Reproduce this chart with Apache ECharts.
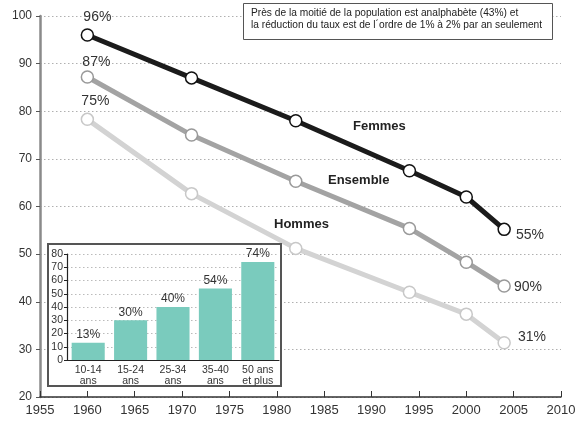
<!DOCTYPE html>
<html>
<head>
<meta charset="utf-8">
<script src="https://cdn.jsdelivr.net/npm/echarts@6/dist/echarts.min.js"></script>
<style>
  html, body { margin: 0; padding: 0; background: #fff; }
  #chart { width: 581px; height: 424px; }
</style>
</head>
<body>
<div id="chart"></div>
<script>
  // annees des recensements / enquetes
  var years = [1960, 1971, 1982, 1994, 2000, 2004]
  var femmes = [96, 87, 78, 67.5, 62, 55.2]
  var ensemble = [87.2, 75, 65.3, 55.4, 48.3, 43.3]
  var hommes = [78.3, 62.7, 51.2, 42, 37.4, 31.4]
  // libelles affiches en debut et fin de courbe
  var startLabels = ['96%', '87%', '75%']
  var endLabels = ['55%', '90%', '31%']

  // encart : taux par tranche d'age
  var ages = ['10-14\nans', '15-24\nans', '25-34\nans', '35-40\nans', '50 ans\net plus']
  var ageRates = [13, 30, 40, 54, 74]

  var font = '"Liberation Sans", Arial, sans-serif'

  var chart = echarts.init(document.getElementById('chart'))

  var makeLine = (name, values, color, border, idx, startOff, endOff) => {
    let data = values.map((v, i) => {
      let item = { value: [years[i], v] }
      if (i == 0) {
        item.label = { show: true, position: 'top', offset: startOff, formatter: startLabels[idx] }
      }
      if (i == values.length - 1) {
        item.label = { show: true, position: 'right', offset: endOff, formatter: endLabels[idx] }
      }
      return item
    })
    return {
      name: name,
      type: 'line',
      xAxisIndex: 0,
      yAxisIndex: 0,
      data: data,
      symbol: 'circle',
      symbolSize: 12,
      z: 2,
      lineStyle: { color: color, width: 5 },
      itemStyle: { color: '#fff', borderColor: border, borderWidth: 1.5 },
      label: { show: false, color: '#333', fontSize: 14, fontFamily: font, distance: 5 },
      emphasis: { disabled: true },
      animation: false
    }
  }

  var option = {
    backgroundColor: '#fff',
    animation: false,
    grid: [
      { left: 40, right: 20, top: 16, bottom: 27 },
      { left: 67, right: 302, top: 254, bottom: 64 }
    ],
    xAxis: [
      {
        type: 'value', gridIndex: 0, min: 1955, max: 2010, interval: 5,
        axisLine: { lineStyle: { color: '#333', width: 1.5 } },
        axisTick: { inside: true, length: 6, lineStyle: { color: '#333' } },
        axisLabel: { color: '#333', fontSize: 13, fontFamily: font, margin: 7, formatter: v => String(v) },
        splitLine: { show: false }
      },
      {
        type: 'category', gridIndex: 1, data: ages, z: 12,
        axisLine: { lineStyle: { color: '#222', width: 1.2 } },
        axisTick: { length: 3, lineStyle: { color: '#222' } },
        axisLabel: { color: '#333', fontSize: 10.5, fontFamily: font, margin: 4, lineHeight: 11.5, interval: 0 }
      }
    ],
    yAxis: [
      {
        type: 'value', gridIndex: 0, min: 20, max: 100, interval: 10,
        axisLine: { show: true, lineStyle: { color: '#8a8a8a', width: 2.5 } },
        axisTick: { show: true, length: 4, lineStyle: { color: '#555' } },
        axisLabel: { color: '#333', fontSize: 12, fontFamily: font, margin: 8 },
        splitLine: { lineStyle: { color: '#b0b0b0', type: [1.5, 2.5], width: 1 } }
      },
      {
        type: 'value', gridIndex: 1, min: 0, max: 80, interval: 10, z: 12,
        axisLine: { show: true, lineStyle: { color: '#222', width: 1.2 } },
        axisTick: { show: true, length: 3, lineStyle: { color: '#222' } },
        axisLabel: { color: '#333', fontSize: 10.5, fontFamily: font, margin: 4 },
        splitLine: { lineStyle: { color: '#bbb', type: [1.5, 2.5], width: 1 } }
      }
    ],
    graphic: [
      {
        type: 'rect', z: 10,
        shape: { x: 243.5, y: 3.5, width: 309, height: 36 },
        style: { fill: '#fff', stroke: '#555', lineWidth: 1 }
      },
      {
        type: 'text', z: 11, left: 251, top: 7,
        style: {
          text: 'Près de la moitié de la population est analphabète (43%) et\nla réduction du taux est de l´ordre de 1% à 2% par an seulement',
          fill: '#222', font: '10.2px ' + font, lineHeight: 12
        }
      },
      {
        type: 'rect', z: 10,
        shape: { x: 48, y: 244, width: 233, height: 142 },
        style: { fill: '#fff', stroke: '#555', lineWidth: 2 }
      },
      { type: 'text', z: 11, left: 353, top: 120, style: { text: 'Femmes', fill: '#222', font: 'bold 13px ' + font } },
      { type: 'text', z: 11, left: 328, top: 174, style: { text: 'Ensemble', fill: '#222', font: 'bold 13px ' + font } },
      { type: 'text', z: 11, left: 274, top: 218, style: { text: 'Hommes', fill: '#222', font: 'bold 13px ' + font } }
    ],
    series: [
      makeLine('Hommes', hommes, '#d3d3d3', '#c8c8c8', 2, [8, 1], [2, -6]),
      makeLine('Ensemble', ensemble, '#a3a3a3', '#999', 1, [9, 4], [-2, 1]),
      makeLine('Femmes', femmes, '#1b1b1b', '#111', 0, [10, 1], [0, 6]),
      {
        name: 'Age', type: 'bar', xAxisIndex: 1, yAxisIndex: 1, data: ageRates,
        barWidth: '78%', z: 12,
        itemStyle: { color: '#7acbbd' },
        label: { show: true, position: 'top', distance: 2, formatter: '{c}%', color: '#333', fontSize: 12, fontFamily: font },
        emphasis: { disabled: true }
      }
    ]
  }

  chart.setOption(option)
</script>
</body>
</html>
